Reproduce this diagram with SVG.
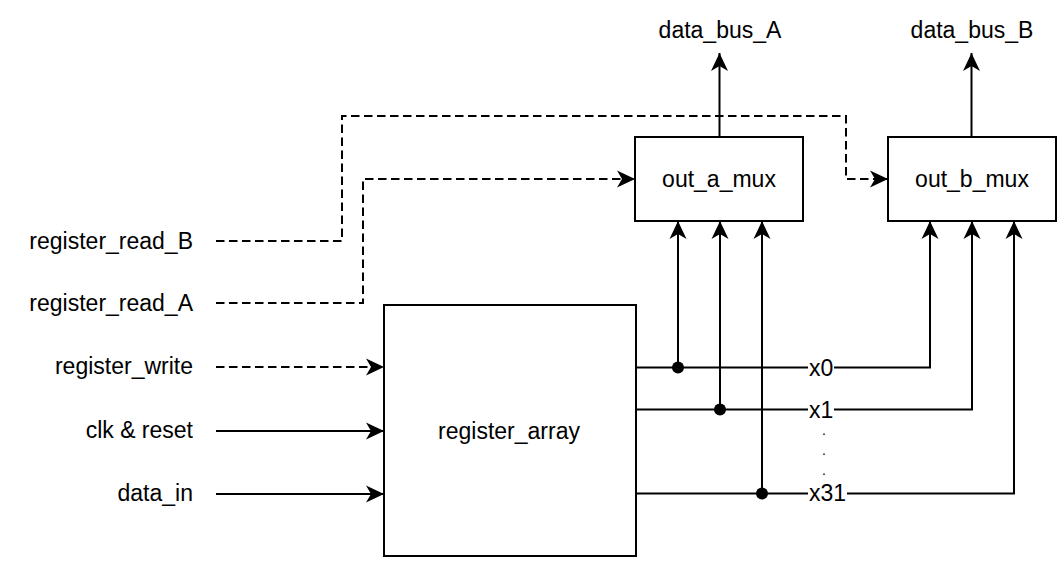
<svg xmlns="http://www.w3.org/2000/svg" width="1064" height="567" viewBox="0 0 1064 567">
  <defs>
    <marker id="arrow" viewBox="0 0 18 18" refX="18" refY="9" markerWidth="18" markerHeight="18" markerUnits="userSpaceOnUse" orient="auto">
      <path d="M18 9 L0 0.5 L5 9 L0 17.5 Z" fill="#000"/>
    </marker>
    <style>
      .box { fill: #fff; stroke: #000; stroke-width: 2; }
      .wire { fill: none; stroke: #000; stroke-width: 2; }
      .dash { stroke-dasharray: 8.5 4.5; }
      .lbl { font-family: "Liberation Sans", Arial, sans-serif; font-size: 23px; fill: #000; }
      .small { font-size: 14px; }
      .mid { text-anchor: middle; }
      .end { text-anchor: end; }
      .dot { fill: #000; }
    </style>
  </defs>

  <!-- connectors -->
  <g id="connectors">
    <!-- mux outputs to buses -->
    <path class="wire" d="M719.5 137 V53" marker-end="url(#arrow)"/>
    <path class="wire" d="M971.5 137 V53" marker-end="url(#arrow)"/>

    <!-- read selects -->
    <path class="wire dash" d="M216 241 H342 V116 H846 V179 H888" marker-end="url(#arrow)"/>
    <path class="wire dash" d="M216 303 H363 V179 H635" marker-end="url(#arrow)"/>

    <!-- register array inputs -->
    <path class="wire dash" d="M216 367 H384" marker-end="url(#arrow)"/>
    <path class="wire" d="M216 431 H384" marker-end="url(#arrow)"/>
    <path class="wire" d="M216 494 H384" marker-end="url(#arrow)"/>

    <!-- register outputs to out_b_mux -->
    <path class="wire" d="M636 367.5 H930 V221" marker-end="url(#arrow)"/>
    <path class="wire" d="M636 409.5 H972 V221" marker-end="url(#arrow)"/>
    <path class="wire" d="M636 493.5 H1014 V221" marker-end="url(#arrow)"/>

    <!-- taps to out_a_mux -->
    <path class="wire" d="M678 367.5 V221" marker-end="url(#arrow)"/>
    <path class="wire" d="M720 409.5 V221" marker-end="url(#arrow)"/>
    <path class="wire" d="M762 493.5 V221" marker-end="url(#arrow)"/>

    <!-- junctions -->
    <circle class="dot" cx="678" cy="367.5" r="6"/>
    <circle class="dot" cx="720" cy="409.5" r="6"/>
    <circle class="dot" cx="762" cy="493.5" r="6"/>

    <!-- register labels on wires -->
    <rect x="808" y="357" width="26" height="22" fill="#fff"/>
    <text class="lbl" x="809" y="376">x0</text>
    <rect x="808" y="399" width="26" height="22" fill="#fff"/>
    <text class="lbl" x="809" y="418">x1</text>
    <text class="lbl small mid" x="824" y="435">.</text>
    <text class="lbl small mid" x="824" y="455">.</text>
    <text class="lbl small mid" x="824" y="475">.</text>
    <rect x="808" y="483" width="39" height="22" fill="#fff"/>
    <text class="lbl" x="809" y="501">x31</text>
  </g>

  <!-- input labels -->
  <g id="in-read-b"><text class="lbl end" x="193" y="249">register_read_B</text></g>
  <g id="in-read-a"><text class="lbl end" x="193" y="311">register_read_A</text></g>
  <g id="in-write"><text class="lbl end" x="193" y="374">register_write</text></g>
  <g id="in-clk"><text class="lbl end" x="193" y="438">clk &amp; reset</text></g>
  <g id="in-data"><text class="lbl end" x="193" y="501">data_in</text></g>

  <!-- output labels -->
  <g id="out-bus-a"><text class="lbl mid" x="720" y="38">data_bus_A</text></g>
  <g id="out-bus-b"><text class="lbl mid" x="972" y="38">data_bus_B</text></g>

  <!-- blocks -->
  <g id="register-array">
    <rect class="box" x="384" y="305" width="252" height="251"/>
    <text class="lbl mid" x="509" y="439">register_array</text>
  </g>
  <g id="out-a-mux">
    <rect class="box" x="635" y="137" width="168" height="84"/>
    <text class="lbl mid" x="719" y="187">out_a_mux</text>
  </g>
  <g id="out-b-mux">
    <rect class="box" x="888" y="137" width="168" height="84"/>
    <text class="lbl mid" x="972" y="187">out_b_mux</text>
  </g>
</svg>
